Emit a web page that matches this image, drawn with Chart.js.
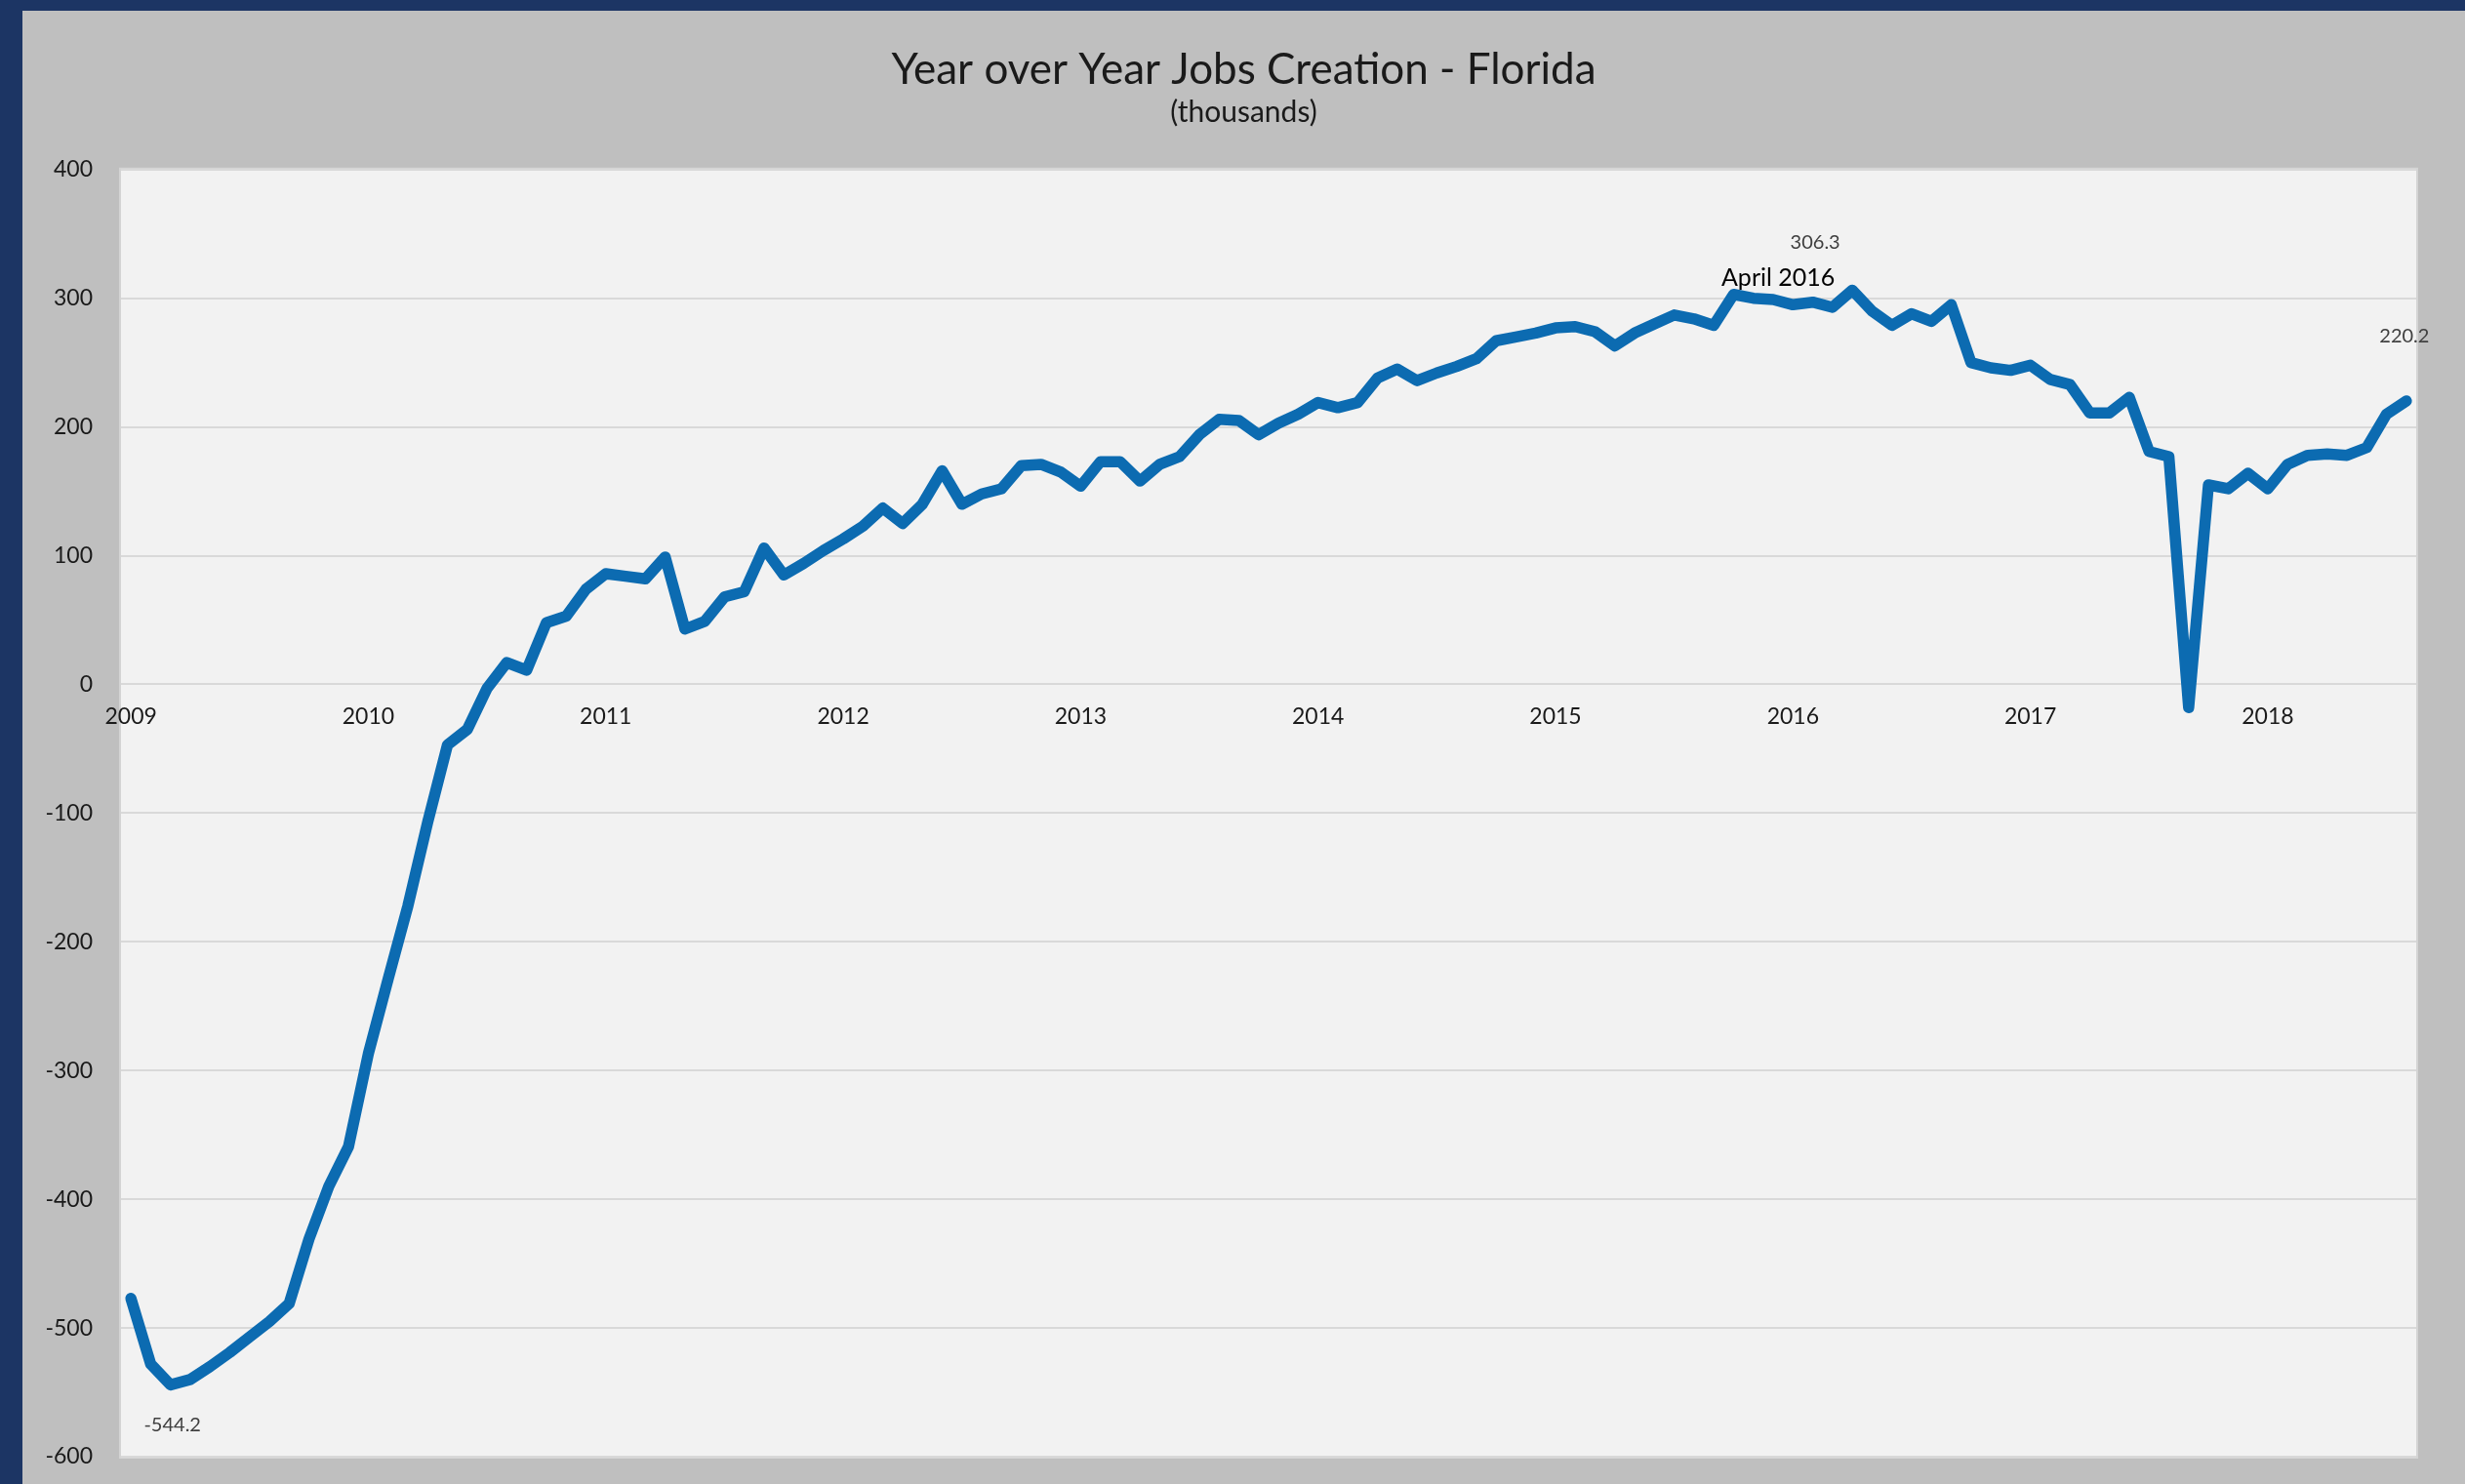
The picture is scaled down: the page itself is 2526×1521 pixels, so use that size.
<!DOCTYPE html>
<html>
<head>
<meta charset="utf-8">
<script src="https://cdn.jsdelivr.net/npm/chart.js@4.4.1/dist/chart.umd.min.js"></script>
<style>
  html, body { margin: 0; padding: 0; background: #1c3564; overflow: hidden; }
  #panel { position: absolute; left: 23px; top: 11px; width: 2503px; height: 1510px; background: #bfbfbf; }
  canvas { display: block; }
</style>
</head>
<body>
<div id="panel"><canvas id="jobs"></canvas></div>
<script>
// Florida, year over year change in nonfarm jobs (thousands), Jan 2009 - Aug 2018
const years = ['2009', '2010', '2011', '2012', '2013', '2014', '2015', '2016', '2017', '2018'];
const monthNames = ['Jan', 'Feb', 'Mar', 'Apr', 'May', 'Jun', 'Jul', 'Aug', 'Sep', 'Oct', 'Nov', 'Dec'];
const jobsYoY = [
  -477, -528, -544.2, -540, -530, -519, -507, -495, -481, -431, -390, -359,   // 2009
  -287, -229, -172, -107, -47, -35, -3, 17, 11, 48, 53, 74,                  // 2010
  86, 84, 82, 99, 43, 49, 68, 72, 106, 85, 94, 104,                          // 2011
  113, 123, 137, 125, 140, 166, 140, 148, 152, 170, 171, 165,                // 2012
  154, 173, 173, 158, 171, 177, 194, 206, 205, 194, 203, 210,                // 2013
  219, 215, 219, 238, 245, 236, 242, 247, 253, 267, 270, 273,                // 2014
  277, 278, 274, 263, 273, 280, 287, 284, 279, 303, 300, 299,                // 2015
  295, 297, 293, 306.3, 290, 279, 288, 282, 295, 250, 246, 244,              // 2016
  248, 237, 233, 211, 211, 223, 181, 177, -18, 155, 152, 164,                // 2017
  152, 171, 178, 179, 178, 184, 210, 220.2                                   // 2018
];
const yTicks = [400, 300, 200, 100, 0, -100, -200, -300, -400, -500, -600];

// point callouts
const calloutIndex = [2, 87, 115];
const calloutText = ['-544.2', '306.3', '220.2'];
const peakCaption = 'April 2016';

const categories = [];
years.forEach(y => monthNames.forEach(m => categories.push(m + ' ' + y)));
categories.length = jobsYoY.length;

const fontFamily = 'Lato, "Open Sans", sans-serif';
const lineColor = '#0c6bb1';

// light plot area with a thin frame
const plotBackground = {
  id: 'plotBackground',
  beforeDraw(chart) {
    const { ctx, chartArea: a } = chart;
    ctx.save();
    ctx.fillStyle = '#f2f2f2';
    ctx.fillRect(a.left, a.top, a.width, a.height);
    ctx.strokeStyle = '#d4d4d4';
    ctx.lineWidth = 2;
    ctx.strokeRect(a.left - 1, a.top - 1, a.width + 2, a.height + 2);
    ctx.restore();
  }
};

// value labels next to chosen points
const callouts = {
  id: 'callouts',
  afterDatasetsDraw(chart) {
    const { ctx } = chart;
    const pts = chart.getDatasetMeta(0).data;
    const offsets = [[2, 41], [-38, -49], [-2, -66]];
    ctx.save();
    ctx.textAlign = 'center';
    ctx.textBaseline = 'middle';
    ctx.font = `20px ${fontFamily}`;
    ctx.fillStyle = '#404040';
    calloutIndex.forEach((idx, k) => {
      const p = pts[idx];
      ctx.fillText(calloutText[k], p.x + offsets[k][0], p.y + offsets[k][1]);
    });
    const peak = pts[calloutIndex[1]];
    ctx.font = `25px ${fontFamily}`;
    ctx.fillStyle = '#000000';
    ctx.fillText(peakCaption, peak.x - 76, peak.y - 12);
    ctx.restore();
  }
};

new Chart(document.getElementById('jobs'), {
  type: 'line',
  data: {
    labels: categories,
    datasets: [{
      label: 'Year over Year Jobs Creation',
      data: jobsYoY,
      borderColor: lineColor,
      borderWidth: 11.5,
      borderJoinStyle: 'round',
      borderCapStyle: 'round',
      pointRadius: 0,
      tension: 0,
      fill: false
    }]
  },
  options: {
    responsive: true,
    maintainAspectRatio: false,
    animation: false,
    layout: { padding: { left: 0, right: 0, top: 0, bottom: 28 } },
    scales: {
      x: {
        type: 'category',
        position: { y: 0 },
        offset: true,
        grid: { display: false },
        border: { display: false },
        ticks: {
          autoSkip: false,
          maxRotation: 0,
          padding: 11,
          color: '#1a1a1a',
          font: { family: fontFamily, size: 23 },
          callback: (v, i) => (i % 12 === 0 ? years[i / 12] : '')
        }
      },
      y: {
        min: -600,
        max: 400,
        afterFit(scale) {
          scale.width = 101;
          // labels may hang over the panel edge, no extra room needed
          scale.paddingTop = 0;
          scale.paddingBottom = 0;
        },
        afterBuildTicks(scale) { scale.ticks = yTicks.map(v => ({ value: v })); },
        grid: { color: '#d9d9d9', lineWidth: 2, drawTicks: false },
        border: { display: false },
        ticks: {
          padding: 29,
          color: '#1a1a1a',
          font: { family: fontFamily, size: 23 }
        }
      },
      // empty right margin, keeps the title centred on the whole panel
      yRight: {
        type: 'linear',
        position: 'right',
        afterFit(scale) { scale.width = 50; },
        grid: { display: false, drawTicks: false },
        border: { display: false },
        ticks: { display: false }
      }
    },
    plugins: {
      legend: { display: false },
      tooltip: { enabled: false },
      title: {
        display: true,
        text: 'Year over Year Jobs Creation - Florida',
        color: '#1a1a1a',
        font: { family: fontFamily, size: 44, weight: 'normal' },
        padding: { top: 34, bottom: 0 }
      },
      subtitle: {
        display: true,
        text: '(thousands)',
        color: '#1a1a1a',
        font: { family: fontFamily, size: 30 },
        padding: { top: 0, bottom: 40 }
      }
    }
  },
  plugins: [plotBackground, callouts]
});
</script>
</body>
</html>
